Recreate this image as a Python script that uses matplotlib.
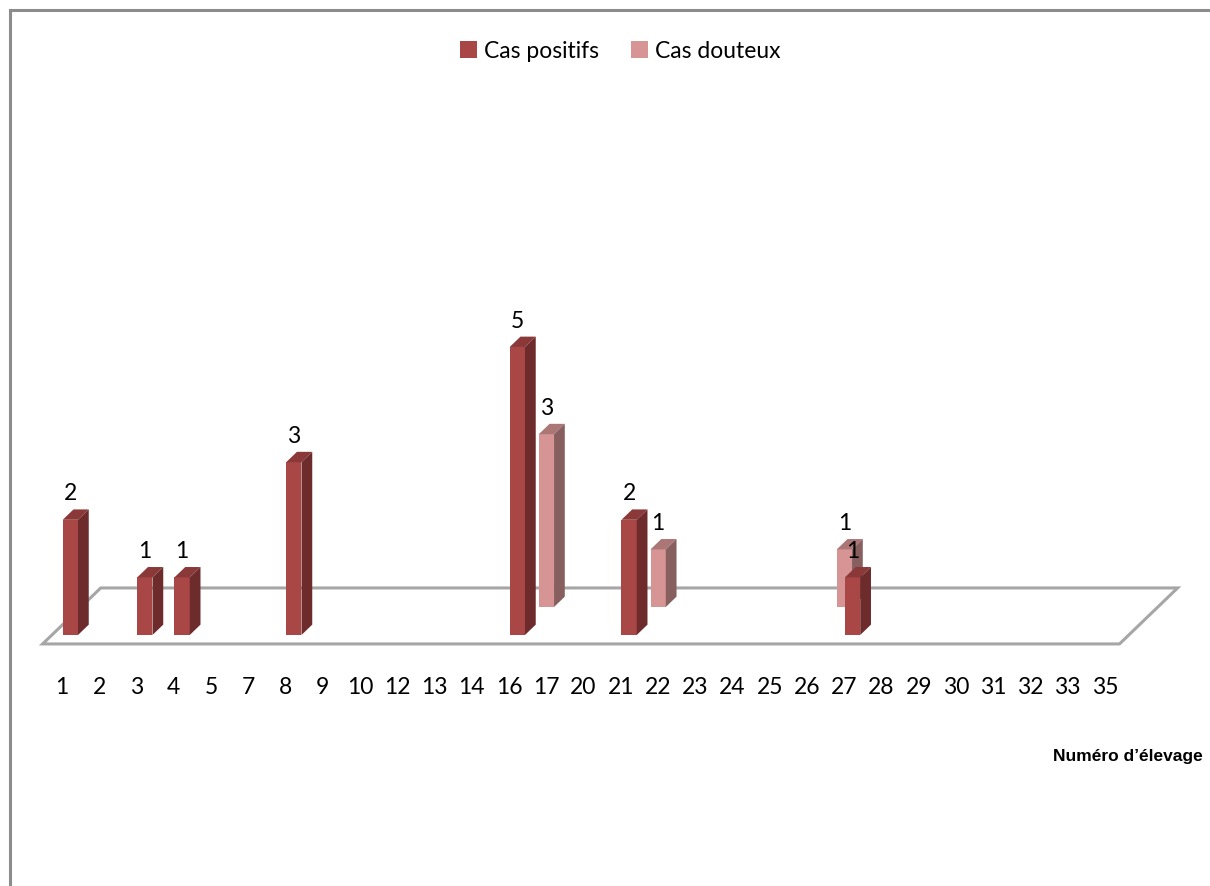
import matplotlib
matplotlib.use("Agg")
import matplotlib.pyplot as plt
from matplotlib.patches import Polygon, Patch
from matplotlib.lines import Line2D

# ── data ────────────────────────────────────────────────────────────────
elevages = ["1", "2", "3", "4", "5", "7", "8", "9", "10", "12", "13", "14",
            "16", "17", "20", "21", "22", "23", "24", "25", "26", "27", "28",
            "29", "30", "31", "32", "33", "35"]
positifs = {"1": 2, "3": 1, "4": 1, "8": 3, "16": 5, "21": 2, "27": 1}
douteux = {"16": 3, "21": 1, "26": 1}

# ── palette ─────────────────────────────────────────────────────────────
POS = ("#A94646", "#8A3838", "#6D2B2B")      # front, top, side
DOU = ("#D69494", "#AB7676", "#875F5F")
FLOOR = "#A6A6A6"
FRAME = "#8C8C8C"
INK = "#000000"

# oblique projection: one depth unit moves (DX, DY) in data units
DX, DY = 0.78, 0.486
BAR_W = 0.41
BAR_D = 0.37
FONT = ["Lato", "DejaVu Sans"]
FS = 16.5


def proj(x, y, z):
    return (x + z * DX, y + z * DY)


def bar3d(ax, i, h, z, colors, zorder):
    front, top, side = colors
    x0 = i + 0.02
    x1 = x0 + BAR_W
    bx, by = proj(x0, 0, z)
    ax.bar(bx, h, width=BAR_W, bottom=by, align="edge",
           color=front, linewidth=0, zorder=zorder)
    top_pts = [proj(x0, h, z), proj(x1, h, z),
               proj(x1, h, z + BAR_D), proj(x0, h, z + BAR_D)]
    side_pts = [proj(x1, 0, z), proj(x1, h, z),
                proj(x1, h, z + BAR_D), proj(x1, 0, z + BAR_D)]
    ax.add_patch(Polygon(top_pts, closed=True, facecolor=top,
                         edgecolor="none", zorder=zorder))
    ax.add_patch(Polygon(side_pts, closed=True, facecolor=side,
                         edgecolor="none", zorder=zorder))
    lx, ly = proj(x0 + BAR_W / 2, h, z)
    ax.text(lx, ly + 0.45, f"{h}", ha="center", va="center",
            fontsize=FS, color=INK, family=FONT, zorder=zorder + 1)


fig = plt.figure(figsize=(12.1, 8.86), dpi=100)
ax = fig.add_axes([0, 0, 1, 1])
ax.set_xlim(-1.664, 30.82)
ax.set_ylim(-4.358, 11.024)
ax.axis("off")

n = len(elevages)

# floor of the plot area
fx0, fx1 = -0.27, n - 0.36
fz0, fz1 = -0.32, 1.68
floor = [proj(fx0, 0, fz0), proj(fx1, 0, fz0),
         proj(fx1, 0, fz1), proj(fx0, 0, fz1)]
ax.add_patch(Polygon(floor, closed=True, facecolor="none",
                     edgecolor=FLOOR, linewidth=2.2, zorder=1))

# back row (doubtful) first, front row on top
for i, name in enumerate(elevages):
    if name in douteux:
        bar3d(ax, i, douteux[name], 1.0, DOU, zorder=3)
for i, name in enumerate(elevages):
    if name in positifs:
        bar3d(ax, i, positifs[name], 0.0, POS, zorder=5)

# category labels
for i, name in enumerate(elevages):
    ax.text(i, -0.92, name, ha="center", va="center", fontsize=FS,
            color=INK, family=FONT)

fig.text(1203 / 1210, 1 - 757 / 886, "Numéro d’élevage", ha="right",
         va="center", fontsize=12.5, fontweight="bold",
         family=["Liberation Sans", "DejaVu Sans"], color=INK)

handles = [Patch(facecolor=POS[0], label="Cas positifs"),
           Patch(facecolor=DOU[0], label="Cas douteux")]
fig.legend(handles=handles, loc="center", ncol=2, frameon=False,
           bbox_to_anchor=(620 / 1210, 1 - 51 / 886),
           prop={"family": FONT, "size": FS},
           handlelength=0.75, handleheight=0.75, handletextpad=0.3,
           columnspacing=1.4)

# chart area border (top and left edges)
top_y = 1 - 10 / 886
left_x = 10 / 1210
fig.add_artist(Line2D([left_x, 1], [top_y, top_y], color=FRAME,
                      linewidth=2.2, transform=fig.transFigure))
fig.add_artist(Line2D([left_x, left_x], [0, top_y], color=FRAME,
                      linewidth=2.2, transform=fig.transFigure))

fig.savefig("out.png", dpi=100, facecolor="white")
